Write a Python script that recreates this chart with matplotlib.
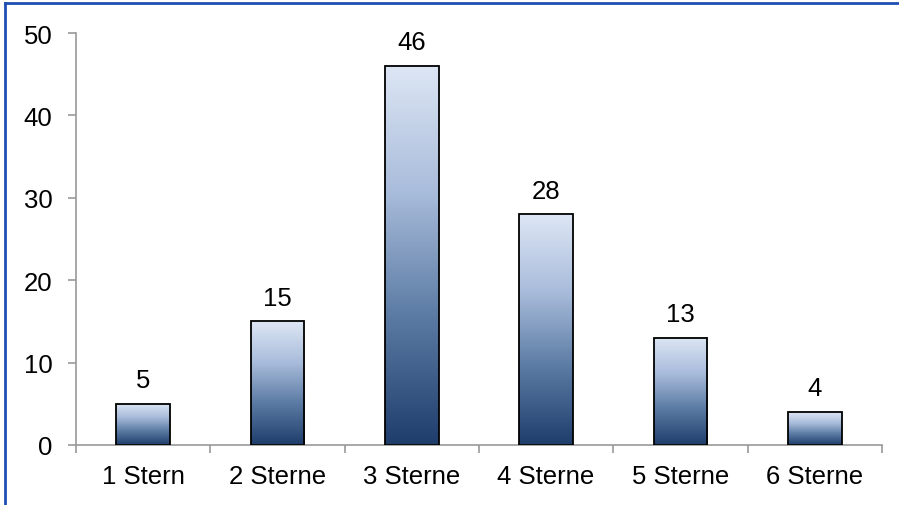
import matplotlib.pyplot as plt
import numpy as np
from matplotlib.colors import LinearSegmentedColormap

categories = ['1 Stern', '2 Sterne', '3 Sterne', '4 Sterne', '5 Sterne', '6 Sterne']
values = [5, 15, 46, 28, 13, 4]

plt.rcParams['font.family'] = ['Liberation Sans', 'DejaVu Sans']

fig = plt.figure(figsize=(8.99, 5.06), dpi=100)
ax = fig.add_axes([0.0845, 0.1186, 0.8965, 0.8142])

cmap = LinearSegmentedColormap.from_list('blues', ['#1f3d6b', '#5a7aa3', '#a9bcdb', '#dde6f4'])
grad = np.linspace(0, 1, 256).reshape(-1, 1)

x = np.arange(len(categories))
w = 0.4
bars = ax.bar(x, values, width=w, facecolor='none', edgecolor='black', linewidth=1.3, zorder=3)
for b, v in zip(bars, values):
    x0 = b.get_x()
    ax.imshow(grad, cmap=cmap, origin='lower', aspect='auto',
              extent=[x0, x0 + w, 0, v], zorder=2)
    ax.text(b.get_x() + w / 2, v + 1.4, str(v), ha='center', va='bottom', fontsize=18.5)

ax.set_xlim(-0.5, len(categories) - 0.5)
ax.set_ylim(0, 50)
ax.set_yticks(range(0, 51, 10))
ax.set_xticks(x)
ax.set_xticklabels(categories)
ax.set_xticks(np.arange(-0.5, len(categories), 1), minor=True)

for s in ['top', 'right']:
    ax.spines[s].set_visible(False)
for s in ['left', 'bottom']:
    ax.spines[s].set_color('#999999')
    ax.spines[s].set_linewidth(1.2)

ax.tick_params(axis='y', length=6, color='#999999', width=1.2, labelsize=18.5, pad=11)
ax.tick_params(axis='x', which='major', length=0, labelsize=18.5, pad=14)
ax.tick_params(axis='x', which='minor', length=6, color='#999999', width=1.2)

# blue frame at top and left of the picture
fig.add_artist(plt.Line2D([5 / 899, 1], [1 - 4 / 506, 1 - 4 / 506], color='#1f4fb4', lw=2))
fig.add_artist(plt.Line2D([5 / 899, 5 / 899], [0, 1 - 4 / 506], color='#1f4fb4', lw=2))

fig.savefig('out.png', dpi=100)
